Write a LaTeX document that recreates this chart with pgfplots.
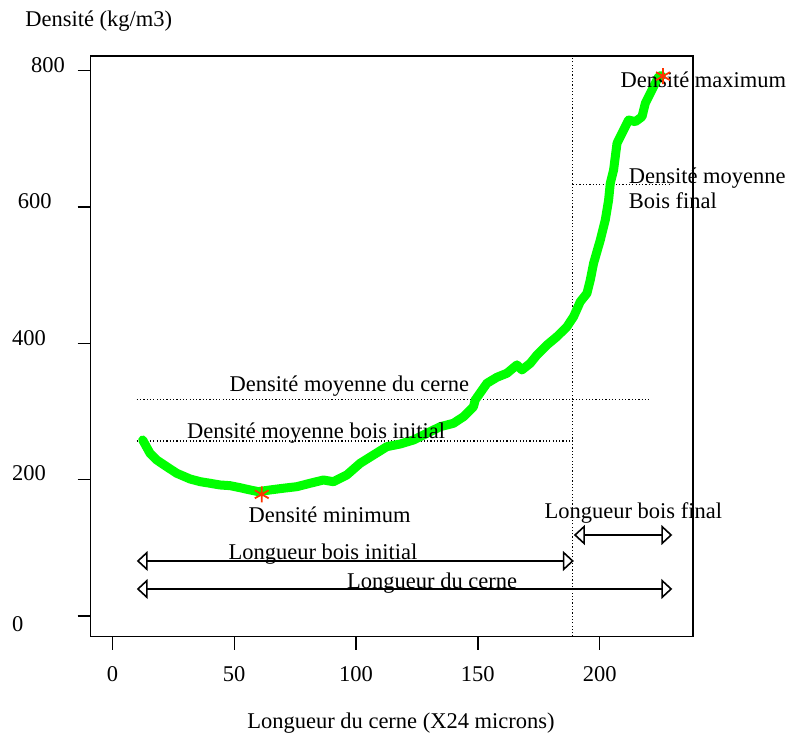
\documentclass[border=0pt]{standalone}
\usepackage{fontspec}
\setmainfont{Liberation Serif}
\usepackage{pgfplots}
\pgfplotsset{compat=1.18}
\usetikzlibrary{arrows.meta}
\definecolor{rgreen}{RGB}{0,255,0}
\definecolor{rred}{RGB}{255,51,0}
\begin{document}
\begin{tikzpicture}[lbl/.style={font=\fontsize{11.25}{13.5}\selectfont, inner sep=0pt, anchor=base west},
  dots/.style={black, line width=0.6pt, dash pattern=on 0.6pt off 1.05pt},
  dbl/.style={black, line width=0.8pt, {Triangle[open,length=5.5pt,width=10pt]}-{Triangle[open,length=5.5pt,width=10pt]}}]
\begin{axis}[
  scale only axis, width=301.15pt, height=290.35pt,
  xmin=-8.9, xmax=238.3, ymin=-30.4, ymax=821.6,
  axis line style={line width=0.65pt},
  xtick={0,50,100,150,200}, ytick={0,200,400,600,800},
  xticklabels={}, yticklabels={},
  xtick pos=lower, ytick pos=left,
  tick align=outside, major tick length=6.5pt,
  tick style={line width=0.65pt, black},
  clip=false,
]
% dotted reference lines
\addplot[dots] coordinates {(189,-30.4) (189,821.6)};
\addplot[dots] coordinates {(10,318) (220,318)};
\addplot[dots] coordinates {(10,256.7) (189,256.7)};
\addplot[dots] coordinates {(189,633.4) (228.3,633.4)};
% length arrows
\addplot[dbl] coordinates {(189.4,118.8) (229.8,118.8)};
\addplot[dbl] coordinates {(10,80.7) (189.4,80.7)};
\addplot[dbl] coordinates {(10,39.6) (229.8,39.6)};
% density profile
\addplot[rgreen, line width=4.5pt, line join=round, line cap=round] coordinates {
(12.44,258.2) (15.44,238.7) (18.19,228.9) (22.30,219.0) (26.41,209.4)
(31.87,201.0) (35.98,197.1) (40.08,194.7) (44.19,192.2) (48.30,191.2)
(52.40,188.2) (56.51,184.9) (59.92,182.4) (64.72,184.9) (70.18,187.4)
(75.69,189.7) (81.15,194.7) (86.61,199.5) (90.72,197.0) (96.22,206.9)
(101.69,224.0) (107.15,236.2) (112.65,248.4) (118.11,252.3) (123.57,258.2)
(129.08,268.0) (134.54,277.7) (140.00,282.7) (144.11,292.4) (148.21,307.1)
(148.91,316.9) (153.72,341.4) (157.82,350.2) (161.93,356.1) (166.04,368.3)
(168.09,361.0) (171.50,370.7) (174.25,382.9) (178.36,397.6) (182.46,409.8)
(186.57,424.4) (189.28,439.1) (192.03,461.1) (194.78,473.4) (196.14,493.0)
(197.50,517.5) (200.25,551.6) (202.30,581.0) (203.66,610.3) (204.35,634.8)
(205.71,654.4) (207.11,693.5) (209.82,713.0) (211.87,727.7) (214.62,725.2)
(217.37,732.5) (218.73,752.2) (220.78,766.9) (222.83,781.5) (224.19,791.2)
(225.3,793.0)};
% min / max markers
\addplot[only marks, mark=asterisk, mark size=4pt, rred, line width=0.9pt] coordinates {(61.3,178.5) (226,792)};
% annotations
\node[lbl] at (axis cs:48.0,329.1) {Densité moyenne du cerne};
\node[lbl] at (axis cs:30.5,260.7) {Densité moyenne bois initial};
\node[lbl] at (axis cs:55.8,136.9) {Densité minimum};
\node[lbl] at (axis cs:208.4,775.7) {Densité maximum};
\node[lbl] at (axis cs:211.8,634.8) {Densité moyenne};
\node[lbl] at (axis cs:211.8,598.2) {Bois final};
\node[lbl] at (axis cs:177.2,143.3) {Longueur bois final};
\node[lbl] at (axis cs:47.5,82.2) {Longueur bois initial};
\node[lbl] at (axis cs:96.2,40.6) {Longueur du cerne};
% tick labels
\node[lbl] at (axis cs:-33.5,797.7) {800};
\node[lbl] at (axis cs:-39.0,598.2) {600};
\node[lbl] at (axis cs:-41.3,396.6) {400};
\node[lbl] at (axis cs:-41.3,198.5) {200};
\node[lbl] at (axis cs:-41.3,-23.0) {0};
\node[lbl, anchor=base] at (axis cs:0,-95.7) {0};
\node[lbl, anchor=base] at (axis cs:50,-95.7) {50};
\node[lbl, anchor=base] at (axis cs:100,-95.7) {100};
\node[lbl, anchor=base] at (axis cs:150,-95.7) {150};
\node[lbl, anchor=base] at (axis cs:200,-95.7) {200};
% axis titles
\node[lbl] at (axis cs:-35.9,864.5) {Densité (kg/m3)};
\node[lbl] at (axis cs:55.2,-165.8) {Longueur du cerne (X24 microns)};
\end{axis}
\path (-45.35pt,-50.15pt) rectangle (348.15pt,318.35pt);
\end{tikzpicture}
\end{document}
